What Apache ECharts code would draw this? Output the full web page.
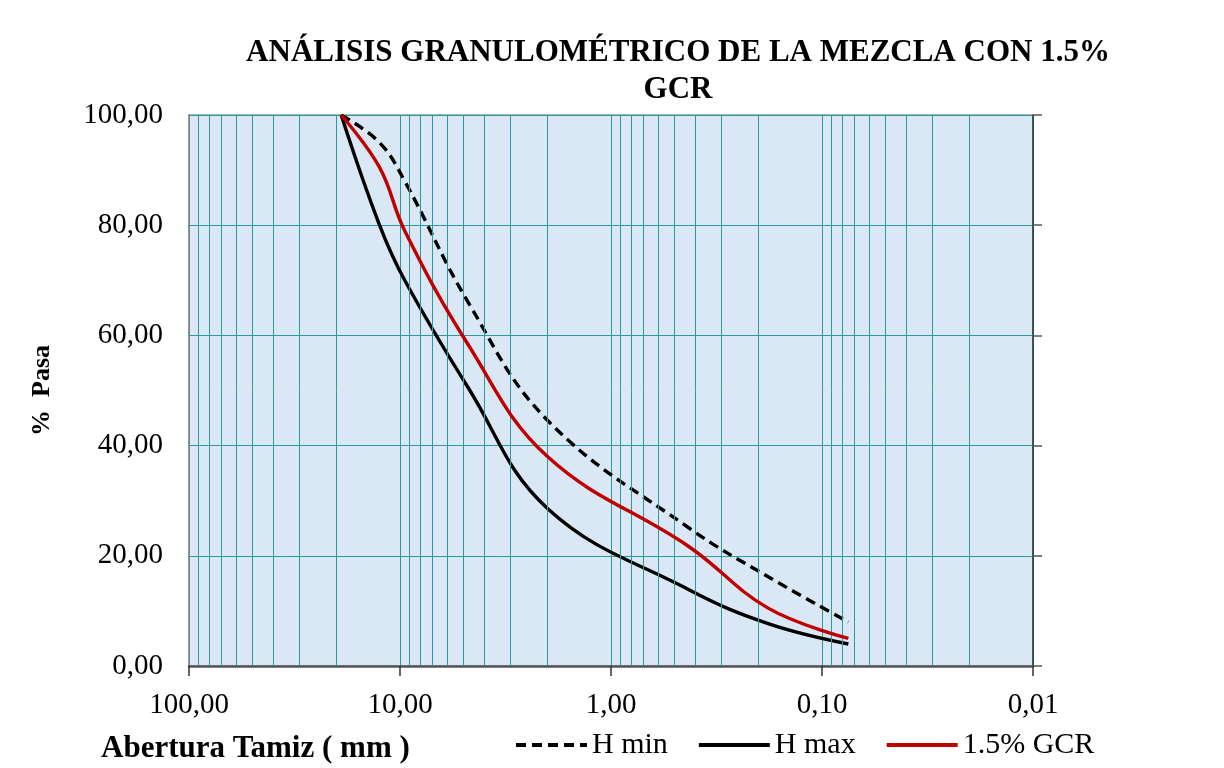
<!DOCTYPE html>
<html>
<head>
<meta charset="utf-8">
<script src="https://cdn.jsdelivr.net/npm/echarts@6/dist/echarts.min.js"></script>
<style>
  html, body { margin: 0; padding: 0; background: #fff; }
  #main { width: 1224px; height: 768px; }
</style>
</head>
<body>
<div id="main"></div>
<script>
// tamices (mm) y % que pasa
const sieves = [19.0, 12.5, 9.5, 4.75, 2.0, 0.425, 0.18, 0.075]
const hMin = [100, 95, 88, 66, 44.6, 25, 16.2, 8]
const hMax = [100, 80, 70, 50.5, 28.6, 13.8, 7.7, 4]
const gcr = [100, 90.5, 79, 58.3, 38, 21.6, 10.5, 5]

// lineas verticales secundarias de la escala logaritmica
const minorLines = [
  90, 80, 70, 60, 50, 40, 30, 20,
  9, 8, 7, 6, 5, 4, 3, 2,
  0.9, 0.8, 0.7, 0.6, 0.5, 0.4, 0.3, 0.2,
  0.09, 0.08, 0.07, 0.06, 0.05, 0.04, 0.03, 0.02
]

const FONT = 'Liberation Serif'
const GRID_COLOR = '#2a9a9c'

const pairs = function (vals) {
  return sieves.map((s, i) => [s, vals[i]])
}
const comma = function (v) {
  return Number(v).toFixed(2).replace('.', ',')
}

const chart = echarts.init(document.getElementById('main'), null, { renderer: 'canvas' })

const option = {
  backgroundColor: '#ffffff',
  animation: false,
  title: [{
    text: 'ANÁLISIS GRANULOMÉTRICO DE LA MEZCLA CON 1.5%\nGCR',
    left: 673,
    top: 29,
    textAlign: 'center',
    textStyle: {
      fontFamily: FONT,
      fontWeight: 'bold',
      fontSize: 31,
      lineHeight: 37,
      color: '#000'
    }
  }, {
    text: 'Abertura Tamiz ( mm )',
    left: 96,
    top: 728,
    textStyle: {
      fontFamily: FONT,
      fontWeight: 'bold',
      fontSize: 31,
      color: '#000'
    }
  }],
  legend: {
    data: ['H min', 'H max', '1.5% GCR'],
    left: 509,
    top: 725,
    itemWidth: 71,
    itemHeight: 14,
    itemGap: 29,
    itemStyle: { opacity: 0 },
    lineStyle: { width: 4 },
    textStyle: { fontFamily: FONT, fontSize: 30, color: '#000' }
  },
  grid: {
    left: 189,
    right: 191,
    top: 115,
    bottom: 102,
    show: true,
    backgroundColor: '#dae8f5',
    borderColor: '#9a9a9a',
    borderWidth: 1.5
  },
  xAxis: {
    type: 'log',
    logBase: 10,
    min: 0.01,
    max: 100,
    inverse: true,
    axisLine: { show: true, onZero: false, lineStyle: { color: '#555', width: 2.5 } },
    axisTick: { show: true, length: 10, lineStyle: { color: '#333', width: 1.5 } },
    axisLabel: {
      margin: 25,
      fontFamily: FONT,
      fontSize: 29,
      color: '#000',
      formatter: comma
    },
    splitLine: { show: true, lineStyle: { color: GRID_COLOR, width: 1 } }
  },
  yAxis: [{
    type: 'value',
    min: 0,
    max: 100,
    interval: 20,
    name: '%  Pasa',
    nameLocation: 'middle',
    nameGap: 134,
    nameRotate: 90,
    nameTextStyle: { fontFamily: FONT, fontWeight: 'bold', fontSize: 26, color: '#000' },
    axisLine: { show: true, lineStyle: { color: '#8a8a8a', width: 1.5 } },
    axisTick: { show: false },
    axisLabel: {
      margin: 26,
      fontFamily: FONT,
      fontSize: 29,
      color: '#000',
      formatter: comma
    },
    splitLine: { show: true, lineStyle: { color: GRID_COLOR, width: 1 } }
  }, {
    type: 'value',
    position: 'right',
    min: 0,
    max: 100,
    interval: 20,
    axisLine: { show: true, lineStyle: { color: '#333', width: 1.5 } },
    axisTick: { show: true, inside: false, length: 9, lineStyle: { color: '#555', width: 1.5 } },
    axisLabel: { show: false },
    splitLine: { show: false }
  }],
  series: [{
    name: 'rejilla',
    type: 'line',
    z: 1,
    silent: true,
    symbol: 'none',
    data: pairs(gcr),
    lineStyle: { opacity: 0 },
    markLine: {
      silent: true,
      symbol: 'none',
      label: { show: false },
      animation: false,
      lineStyle: { color: GRID_COLOR, width: 1, type: 'solid' },
      data: minorLines.map(v => ({ xAxis: v }))
    }
  }, {
    name: 'H min',
    type: 'line',
    z: 4,
    smooth: 0.4,
    symbol: 'none',
    data: pairs(hMin),
    lineStyle: { color: '#000', width: 3.4, type: [10, 6] },
    itemStyle: { color: '#000' }
  }, {
    name: 'H max',
    type: 'line',
    z: 4,
    smooth: 0.4,
    symbol: 'none',
    data: pairs(hMax),
    lineStyle: { color: '#000', width: 3.4 },
    itemStyle: { color: '#000' }
  }, {
    name: '1.5% GCR',
    type: 'line',
    z: 5,
    smooth: 0.4,
    symbol: 'none',
    data: pairs(gcr),
    lineStyle: { color: '#c00000', width: 3.4 },
    itemStyle: { color: '#c00000' }
  }]
}

chart.setOption(option)
</script>
</body>
</html>
